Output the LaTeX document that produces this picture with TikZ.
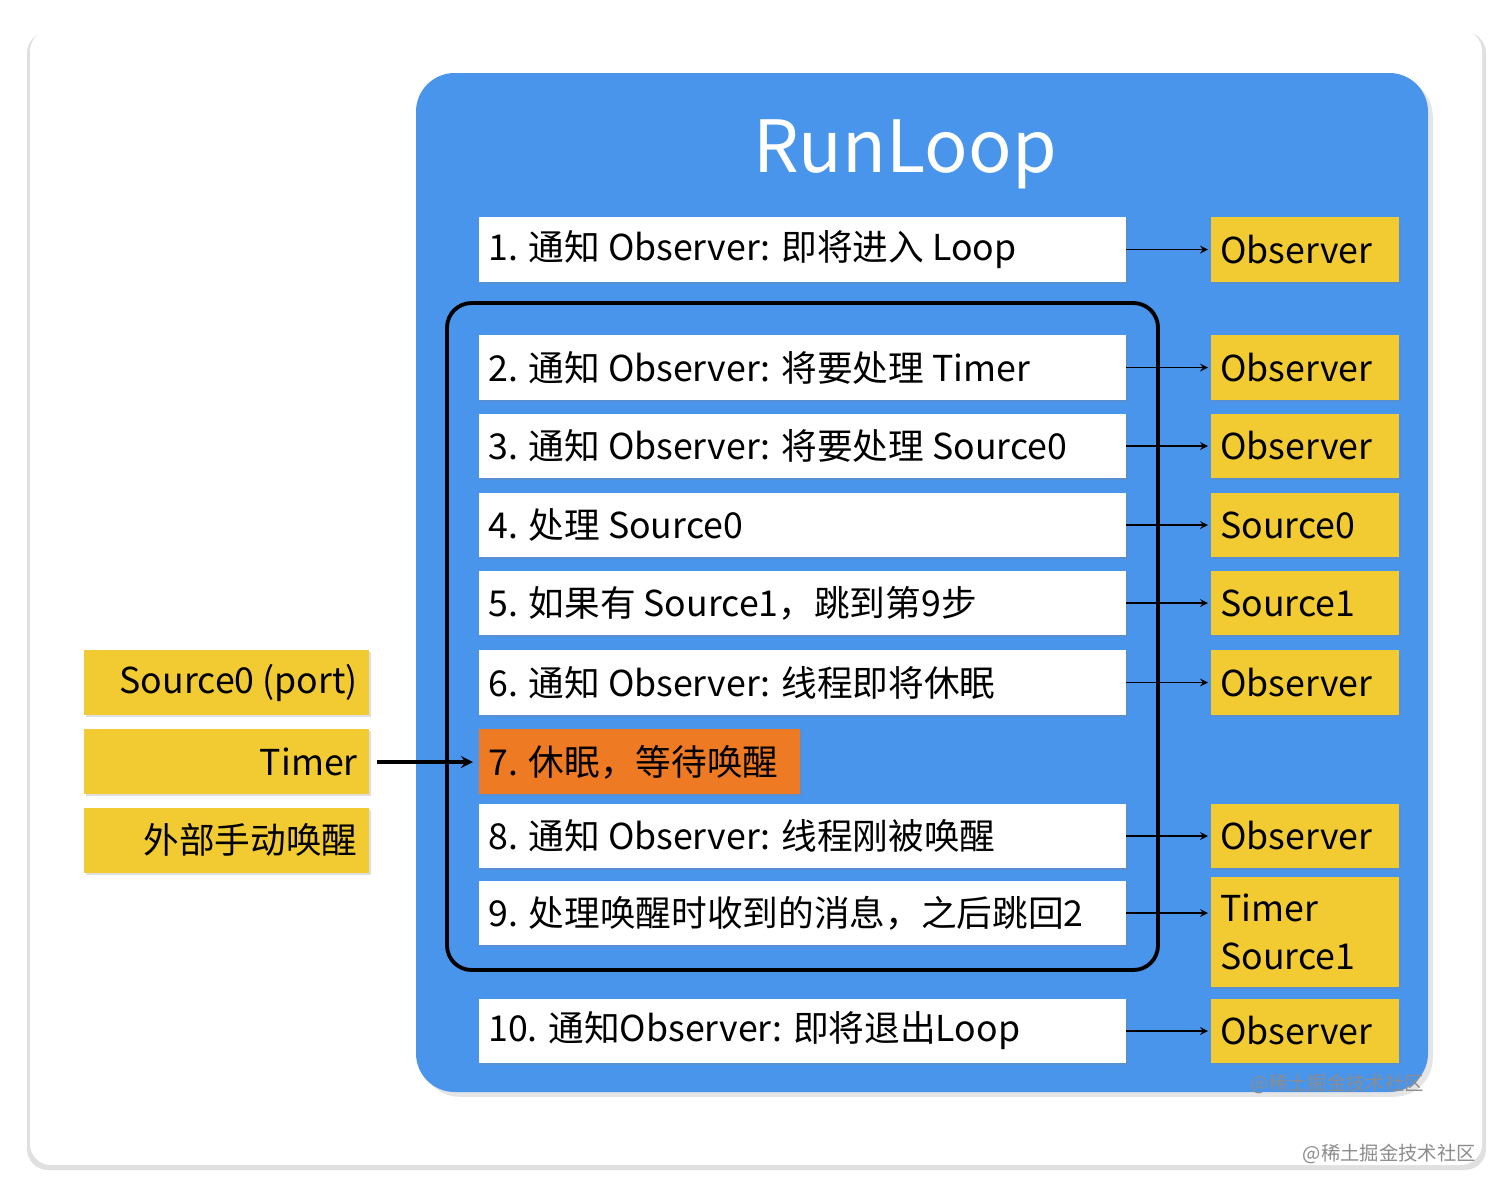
\documentclass[tikz,border=0pt]{standalone}
\usepackage{fontspec}
\setmainfont{Noto Sans CJK SC}
\usetikzlibrary{shadows}
\definecolor{bgblue}{HTML}{4A95EC}
\definecolor{yel}{HTML}{F2CB33}
\definecolor{org}{HTML}{EE7A24}
\begin{document}
\begin{tikzpicture}[x=0.02cm,y=-0.02cm,
  wbox/.style={fill=white,drop shadow={shadow xshift=1pt,shadow yshift=-1pt,opacity=0.25}},
  ybox/.style={fill=yel,drop shadow={shadow xshift=1pt,shadow yshift=-1pt,opacity=0.25}},
  txt/.style={font=\fontsize{20.3}{25}\selectfont,anchor=west,inner sep=0},
  arr/.style={-stealth,line width=1.4pt}]
\useasboundingbox (0,0) rectangle (1512,1194);
\fill[white] (0,0) rectangle (1512,1194);
\fill[black!12,rounded corners=12] (27,32) rectangle (1486,1170);
\fill[white,rounded corners=12] (30,30) rectangle (1482,1165);
\fill[bgblue,rounded corners=22,drop shadow={opacity=0.2}] (416,73) rectangle (1428,1092);
\node[white,font=\fontsize{41}{45}\selectfont] (title) at (905,154) {RunLoop};
\draw[line width=2.2pt,rounded corners=14] (447,303) rectangle (1158,970);
% rows
\foreach \n/\a/\b/\t/\o in {
 r1/217/282/{1. 通知 Observer: 即将进入 Loop}/Observer,
 r2/335/400/{2. 通知 Observer: 将要处理 Timer}/Observer,
 r3/414/478/{3. 通知 Observer: 将要处理 Source0}/Observer,
 r4/493/557/{4. 处理 Source0}/Source0,
 r5/571/635/{5. 如果有 Source1，跳到第9步}/Source1,
 r6/650/715/{6. 通知 Observer: 线程即将休眠}/Observer,
 r8/804/868/{8. 通知 Observer: 线程刚被唤醒}/Observer,
 r10/999/1063/{10. 通知Observer: 即将退出Loop}/Observer}{
 \path[wbox] (479,\a) rectangle (1126,\b);
 \node[txt] (\n) at (488,{(\a+\b)/2}) {\t};
 \coordinate (\n e) at (1126,{(\a+\b)/2});
 \path[ybox] (1211,\a) rectangle (1399,\b);
 \node[txt] (\n o) at (1220,{(\a+\b)/2}) {\o};
 \coordinate (\n y) at (1208,{(\a+\b)/2});
 \draw[arr,line width=1pt] (\n e) -- (\n y);
}
\path[wbox] (479,881) rectangle (1126,945);
\node[txt] (r9) at (488,913) {9. 处理唤醒时收到的消息，之后跳回2};
\coordinate (r9e) at (1126,913);
\path[ybox] (1211,877) rectangle (1399,987);
\node[txt,align=left] (r9o) at (1220,932) {Timer\\[2pt]Source1};
\coordinate (r9y) at (1208,913);
\draw[arr,line width=1pt] (r9e) -- (r9y);
\path[fill=org,drop shadow={shadow xshift=1pt,shadow yshift=-1pt,opacity=0.25}] (479,729) rectangle (800,794);
\node[txt] (r7) at (488,762) {7. 休眠，等待唤醒};
\coordinate (r7w) at (473,762);
% left
\path[ybox] (84,650) rectangle (369,715);
\node[txt,anchor=east] (l1) at (358,683) {Source0 (port)};
\path[ybox] (84,729) rectangle (369,794);
\node[txt,anchor=east] (l2) at (358,762) {Timer};
\path[ybox] (84,808) rectangle (369,873);
\node[txt,anchor=east] (l3) at (358,840) {外部手动唤醒};
\coordinate (l2e) at (377,762);
\draw[arr,line width=2pt] (l2e) -- (r7w);
\node[font=\fontsize{11}{12}\selectfont,text=black!45,anchor=east] (wm1) at (1430,1084) {@稀土掘金技术社区};
\node[font=\fontsize{11}{12}\selectfont,text=black!45,anchor=east] (wm2) at (1482,1154) {@稀土掘金技术社区};
\end{tikzpicture}
\end{document}
